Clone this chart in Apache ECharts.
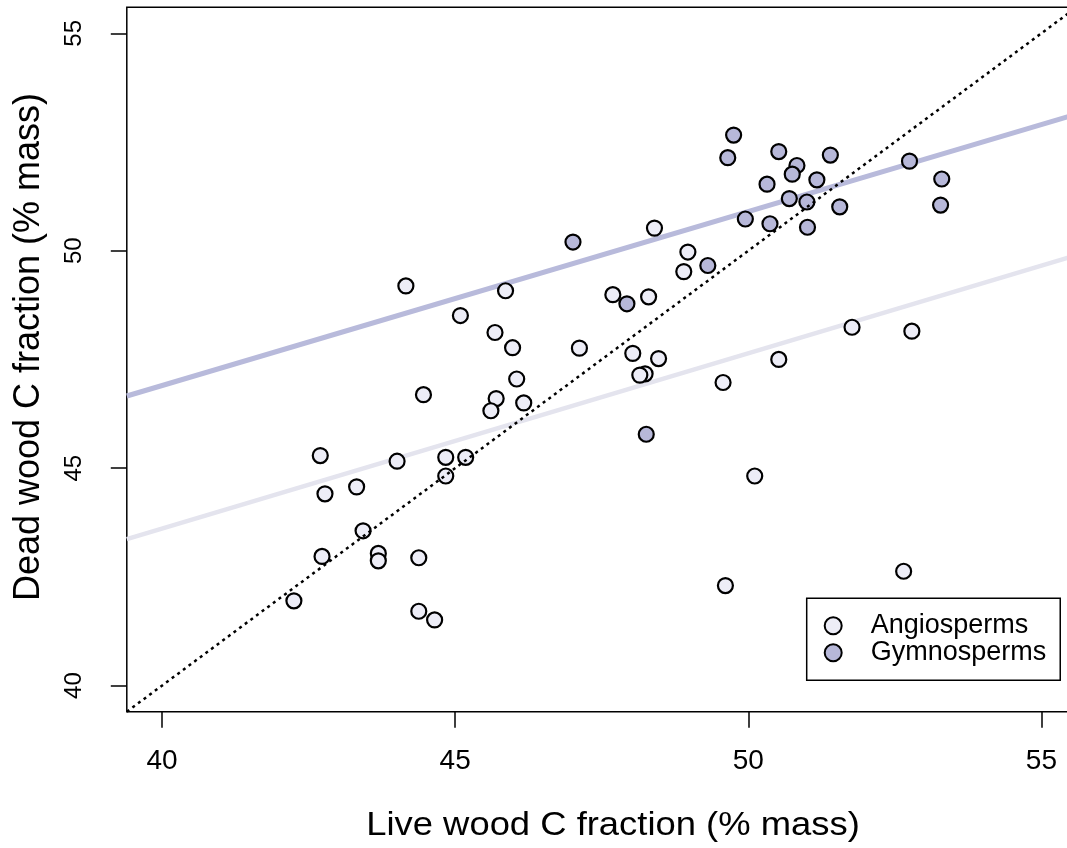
<!DOCTYPE html>
<html><head><meta charset="utf-8">
<script src="https://cdn.jsdelivr.net/npm/echarts@6/dist/echarts.min.js"></script>
<style>html,body{margin:0;padding:0;background:#fff;overflow:hidden;width:1067px;height:848px}#c{width:1110px;height:848px}</style>
</head><body><div id="c"></div>
<script>
// ---- data ----
const xTicks = [40, 45, 50, 55];
const yTicks = [40, 45, 50, 55];
const seriesNames = ['Angiosperms', 'Gymnosperms'];

const angioLive = [44.16,45.09,45.86,45.68,45.98,46.05,44.46,45.70,46.17,45.61,42.70,44.01,44.84,45.18,42.78,43.32,44.84,43.43,42.73,43.69,43.69,44.38,42.25,44.38,44.65,48.40,48.97,48.90,47.69,48.30,47.12,48.03,48.47,48.24,48.15,49.57,50.52,51.77,52.79,50.11,49.61,52.65];
const angioDead = [49.19,48.51,49.08,48.12,47.77,47.05,46.69,46.60,46.50,46.32,45.29,45.16,45.25,45.25,44.41,44.57,44.82,43.56,42.97,43.04,42.87,42.94,41.95,41.71,41.51,50.52,49.97,49.52,48.99,48.94,47.76,47.64,47.52,47.17,47.14,46.97,47.50,48.24,48.15,44.82,42.30,42.63];

const gymnoLive = [47.01,47.93,49.31,48.26,49.75,49.65,50.52,50.83,50.75,51.40,50.32,51.17,52.75,53.30,53.28,50.70,51.00,51.56,49.95,50.37,51.01];
const gymnoDead = [50.20,48.78,49.66,45.78,52.66,52.14,52.28,51.96,51.76,52.20,51.53,51.63,52.06,51.65,51.05,51.20,51.12,51.01,50.73,50.62,50.54];

// fitted-line end points and the 1:1 line
const angioFitX = [39.4, 55.6], angioFitY = [43.37, 49.90];
const gymnoFitX = [39.4, 55.6], gymnoFitY = [46.66, 53.14];
const oneX = [39.4, 55.6], oneY = [39.4, 55.6];

const xTitle = 'Live wood C fraction (% mass)';
const yTitle = 'Dead wood C fraction (% mass)';

// ---- chart ----
const zip = (a, b) => a.map((v, i) => [v, b[i]]);
const FONT = 'Liberation Sans, Arial, Helvetica, sans-serif';
const angioFill = '#EDEDF7', gymnoFill = '#B7B8D9';

const chart = echarts.init(document.getElementById('c'), null, {renderer: 'canvas'});
chart.setOption({
  animation: false,
  backgroundColor: '#fff',
  grid: {left: 126.8, top: 7.2, width: 949.8, height: 704.5, show: true,
         borderColor: '#000', borderWidth: 1.5, backgroundColor: 'transparent'},
  xAxis: {
    type: 'value', min: 39.4, max: 55.6,
    axisLine: {show: false}, splitLine: {show: false},
    axisTick: {show: true, length: 16, customValues: xTicks, lineStyle: {color: '#000', width: 1.5}},
    axisLabel: {customValues: xTicks, fontSize: 28, lineHeight: 28, color: '#000', margin: 36, fontFamily: FONT}
  },
  yAxis: {
    type: 'value', min: 39.4, max: 55.6,
    axisLine: {show: false}, splitLine: {show: false},
    axisTick: {show: true, length: 16, customValues: yTicks, lineStyle: {color: '#000', width: 1.5}},
    axisLabel: {customValues: yTicks, fontSize: 24, lineHeight: 24, color: '#000', margin: 40, rotate: 90, fontFamily: FONT}
  },
  legend: {
    orient: 'vertical', left: 806.7, top: 598.3,
    data: seriesNames,
    padding: [14, 14, 14, 17], itemGap: 0, itemWidth: 17, itemHeight: 17,
    borderColor: '#000', borderWidth: 1.5, backgroundColor: '#fff',
    textStyle: {fontSize: 27, lineHeight: 27, color: '#000', fontFamily: FONT, padding: [0, 0, 0, 24]},
    icon: 'circle'
  },
  graphic: [
    {type: 'text', x: 613, y: 826, scaleX: 1.12, z: 10,
     style: {text: xTitle, font: '32.5px ' + FONT, fill: '#000', align: 'center', verticalAlign: 'middle'}},
    {type: 'text', x: 29, y: 347, rotation: Math.PI / 2, z: 10,
     style: {text: yTitle, font: '36px ' + FONT, fill: '#000', align: 'center', verticalAlign: 'middle'}}
  ],
  series: [
    {type: 'line', name: 'gfit', data: zip(gymnoFitX, gymnoFitY), symbol: 'none', z: 1,
     lineStyle: {color: '#B8BADB', width: 5}, silent: true},
    {type: 'line', name: 'afit', data: zip(angioFitX, angioFitY), symbol: 'none', z: 1,
     lineStyle: {color: '#E4E4EE', width: 4.5}, silent: true},
    {type: 'scatter', name: seriesNames[0], data: zip(angioLive, angioDead), symbolSize: 15, z: 3,
     itemStyle: {color: angioFill, borderColor: '#000', borderWidth: 2.2, opacity: 1}},
    {type: 'scatter', name: seriesNames[1], data: zip(gymnoLive, gymnoDead), symbolSize: 15, z: 3,
     itemStyle: {color: gymnoFill, borderColor: '#000', borderWidth: 2.2, opacity: 1}},
    {type: 'line', name: 'one', data: zip(oneX, oneY), symbol: 'none', z: 5,
     lineStyle: {color: '#000', width: 2.5, type: [3, 4]}, silent: true}
  ]
});
</script>
</body></html>
